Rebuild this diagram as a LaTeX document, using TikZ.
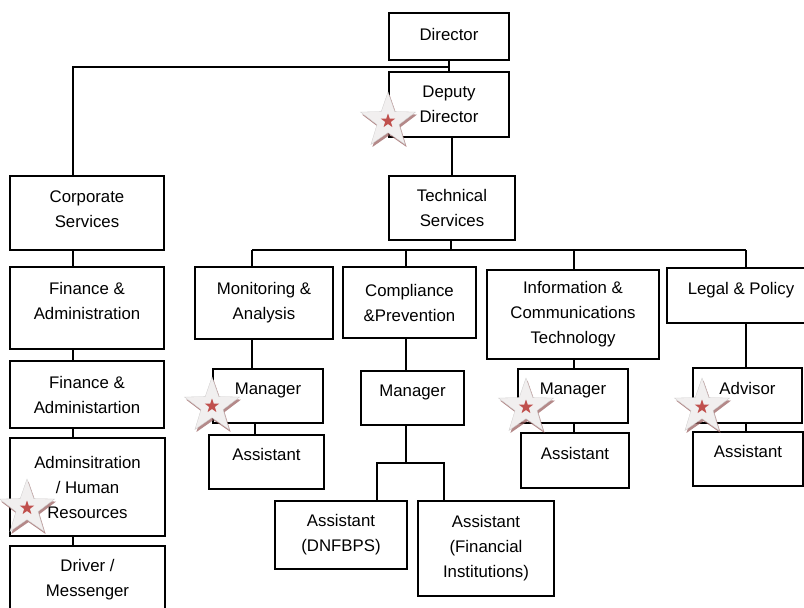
\documentclass[tikz,border=0pt]{standalone}
\usepackage{fontspec}
\setmainfont{Liberation Sans}
\usetikzlibrary{shapes.geometric}
\definecolor{starred}{HTML}{C0504D}
\definecolor{starpale}{HTML}{F1EFEF}
\definecolor{starrim}{HTML}{9B6262}
\tikzset{
	orgbox/.style={draw, line width=1.5pt, fill=white, align=center, inner sep=0pt, font=\fontsize{16.8}{25}\selectfont},
	raised/.style={text depth=#1}, raised/.default=15pt,
	link/.style={line width=1.5pt},
	bigstar/.style={star, star points=5, star point ratio=2.5, minimum size=58pt, inner sep=0pt},
	smallstar/.style={star, star points=5, star point ratio=2.5, minimum size=15pt, inner sep=0pt, fill=starred}
}
\begin{document}
\begin{tikzpicture}[x=1pt, y=-1pt]
			\useasboundingbox (0,0) rectangle (804,608);
			\clip (0,0) rectangle (804,608);

			\node (dir)[orgbox, raised=4pt, minimum width=120pt, minimum height=47pt] at (449,36.5) {Director};
			\node (dep)[orgbox, minimum width=120pt, minimum height=65pt] at (449,104.5) {Deputy\\Director};
			\node (corp)[orgbox, raised=8pt, minimum width=154pt, minimum height=74pt] at (87,213) {Corporate\\Services};
			\node (tech)[orgbox, minimum width=126pt, minimum height=64pt] at (452,208) {Technical\\Services};

			\node (fin1)[orgbox, raised, minimum width=154pt, minimum height=82pt] at (87,308) {Finance \&\\Administration};
			\node (fin2)[orgbox, minimum width=154pt, minimum height=67pt] at (87,394.5) {Finance \&\\Administartion};
			\node (hr)[orgbox, minimum width=155pt, minimum height=98pt] at (87.5,487) {Adminsitration\\/ Human\\Resources};
			\node (drv)[orgbox, minimum width=155pt, minimum height=67pt] at (87.5,579.5) {Driver /\\Messenger};

			\node (mon)[orgbox, minimum width=138pt, minimum height=72pt] at (264,303) {Monitoring \&\\Analysis};
			\node (comp)[orgbox, minimum width=133pt, minimum height=71pt] at (409.5,302.5) {Compliance\\\&Prevention};
			\node (ict)[orgbox, minimum width=172pt, minimum height=89pt] at (573,314.5) {Information \&\\Communications\\Technology};
			\node (legal)[orgbox, raised, minimum width=148pt, minimum height=55pt] at (741,295.5) {Legal \& Policy};

			\node (mmgr)[orgbox, raised, minimum width=110pt, minimum height=54pt] at (268,396) {Manager};
			\node (masst)[orgbox, raised, minimum width=115pt, minimum height=54pt] at (266.5,462) {Assistant};
			\node (cmgr)[orgbox, raised, minimum width=103pt, minimum height=54pt] at (412.5,398) {Manager};
			\node (cas1)[orgbox, minimum width=132pt, minimum height=68pt] at (341,535) {Assistant\\(DNFBPS)};
			\node (cas2)[orgbox, minimum width=136pt, minimum height=95pt] at (486,548.5) {Assistant\\(Financial\\Institutions)};
			\node (imgr)[orgbox, raised, minimum width=110pt, minimum height=54pt] at (573,396) {Manager};
			\node (iasst)[orgbox, raised, minimum width=108pt, minimum height=55pt] at (575,460.5) {Assistant};
			\node (ladv)[orgbox, raised, minimum width=109pt, minimum height=55pt] at (747.5,395.5) {Advisor};
			\node (lasst)[orgbox, raised, minimum width=110pt, minimum height=54pt] at (748,459) {Assistant};

			\coordinate (spine) at (73,67);
			\coordinate (bus) at (451,250);
			\coordinate (monx) at (252,250);
			\coordinate (monx2) at (255,250);
			\coordinate (compx) at (406,250);
			\coordinate (ictx) at (574,250);
			\coordinate (legx) at (746,250);
			\coordinate (forkl) at (377,463);
			\coordinate (forkr) at (444,463);

			\draw [link](dir) -- (dep);
			\draw [link](dir.south |- spine) -- (spine) -- (corp.north -| spine);
			\draw [link](corp.south -| spine) -- (fin1.north -| spine);
			\draw [link](fin1.south -| spine) -- (fin2.north -| spine);
			\draw [link](fin2.south -| spine) -- (hr.north -| spine);
			\draw [link](hr.south -| spine) -- (drv.north -| spine);

			\draw [link](tech.north |- dep.south) -- (tech.north);
			\draw [link](tech.south -| bus) -- (bus);
			\draw [link](monx) -- (legx);
			\draw [link](monx) -- (mon.north -| monx);
			\draw [link](compx) -- (comp.north -| compx);
			\draw [link](ictx) -- (ict.north -| ictx);
			\draw [link](legx) -- (legal.north -| legx);

			\draw [link](mon.south -| monx) -- (mmgr.north -| monx);
			\draw [link](mmgr.south -| monx2) -- (masst.north -| monx2);
			\draw [link](comp.south -| compx) -- (cmgr.north -| compx);
			\draw [link](cmgr.south -| compx) -- (compx |- forkl);
			\draw [link](cas1.north -| forkl) -- (forkl) -- (forkr) -- (cas2.north -| forkr);
			\draw [link](ict.south -| ictx) -- (imgr.north -| ictx);
			\draw [link](imgr.south -| ictx) -- (iasst.north -| ictx);
			\draw [link](legal.south -| legx) -- (ladv.north -| legx);
			\draw [link](ladv.south -| legx) -- (lasst.north -| legx);

			\foreach \sx/\sy [count=\i] in {388/121, 212/406, 526/407, 702/407, 27/508} {
				\node (rim\i)[bigstar, fill=starrim, opacity=0.75] at (\sx+1.5,\sy+2.5) {};
				\node (star\i)[bigstar, fill=starpale, draw=starpale!85!black, line width=0.3pt] at (\sx,\sy) {};
				\node (dot\i)[smallstar] at (\sx,\sy) {};
			}
		\end{tikzpicture}
\end{document}
